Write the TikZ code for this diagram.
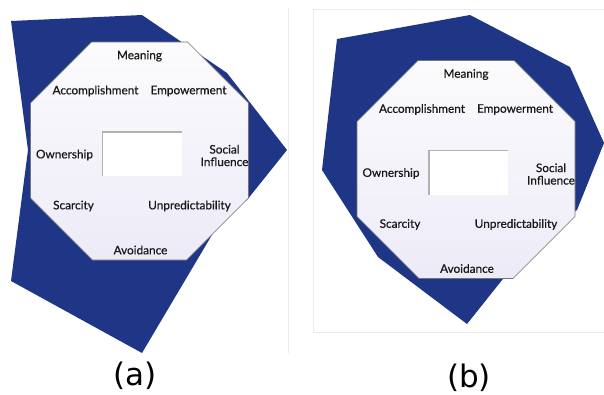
\documentclass[tikz,border=0pt]{standalone}
\usepackage{fontspec}
\setmainfont{Lato}
\newfontfamily\drivefont{Lato}[FakeBold=0.6]
\newfontfamily\capfont{DejaVu Sans}
\usetikzlibrary{positioning}
\definecolor{motnavy}{rgb}{0.12,0.21,0.53}
\definecolor{octtop}{rgb}{0.985,0.985,0.99}
\definecolor{octbot}{rgb}{0.93,0.92,0.97}
\definecolor{edgegray}{rgb}{0.92,0.92,0.92}

\begin{document}
\begin{tikzpicture}[
  x=1pt, y=-1pt,
  blob/.style={fill=motnavy},
  octa/.style={draw=black!55, line width=0.6pt, top color=octtop, bottom color=octbot},
  drive/.style={font=\drivefont\fontsize{11.8}{12.5}\selectfont, text=black!90, inner sep=0pt, align=center},
  slot/.style={fill=white},
  slotedge/.style={draw=black!30, line width=1.1pt},
  sheet/.style={draw=edgegray, line width=0.5pt},
  caption/.style={font=\capfont\fontsize{31}{33}\selectfont, anchor=base}
]
\useasboundingbox (0,0) rectangle (604,394);

% sheet borders of the two panels
\draw[sheet] (288,8) -- (288,353);
\draw[sheet] (604,9) -- (313,9) -- (313,332) -- (604,332);

% scores of the two players (drawn under the octagons)
\fill[blob] (11,21) -- (142,15) -- (227,73) -- (287,150) -- (247,200) -- (222,218)
  -- (142,353) -- (11,281) -- (28,150) -- cycle;
\fill[blob] (337,39) -- (470,15) -- (570,67) -- (604,143) -- (577,210) -- (530,245)
  -- (467,324) -- (378,257) -- (322,170) -- cycle;

% octagon with the eight core drives
\foreach \p/\cx/\cy in {a/139.5/151, b/466/169.5} {
  \begin{scope}[shift={(\cx,\cy)}]
    \draw[octa] (-48,-109) -- (48,-109) -- (109,-48) -- (109,47) -- (47,109)
      -- (-47,109) -- (-109,47) -- (-109,-48) -- cycle;
    \fill[slot] (-37,-19) rectangle (42,25);
    \draw[slotedge] (-37,25) -- (-37,-19) -- (42,-19);
    \node[drive] (mean-\p) at (0,-95) {Meaning};
    \node[drive] (acc-\p) at (-44,-60) {Accomplishment};
    \node[drive] (emp-\p) at (49,-60) {Empowerment};
    \node[drive] (own-\p) at (-75,4) {Ownership};
    \node[drive] (soc-\p) at (85,4.5) {Social\\Influence};
    \node[drive] (scar-\p) at (-66,55) {Scarcity};
    \node[drive] (unp-\p) at (50,55) {Unpredictability};
    \node[drive] (avo-\p) at (1,99) {Avoidance};
  \end{scope}
}

\node[caption] (cap-a) at (135,385) {(a)};
\node[caption] (cap-b) at (469,387.5) {(b)};
\end{tikzpicture}
\end{document}
